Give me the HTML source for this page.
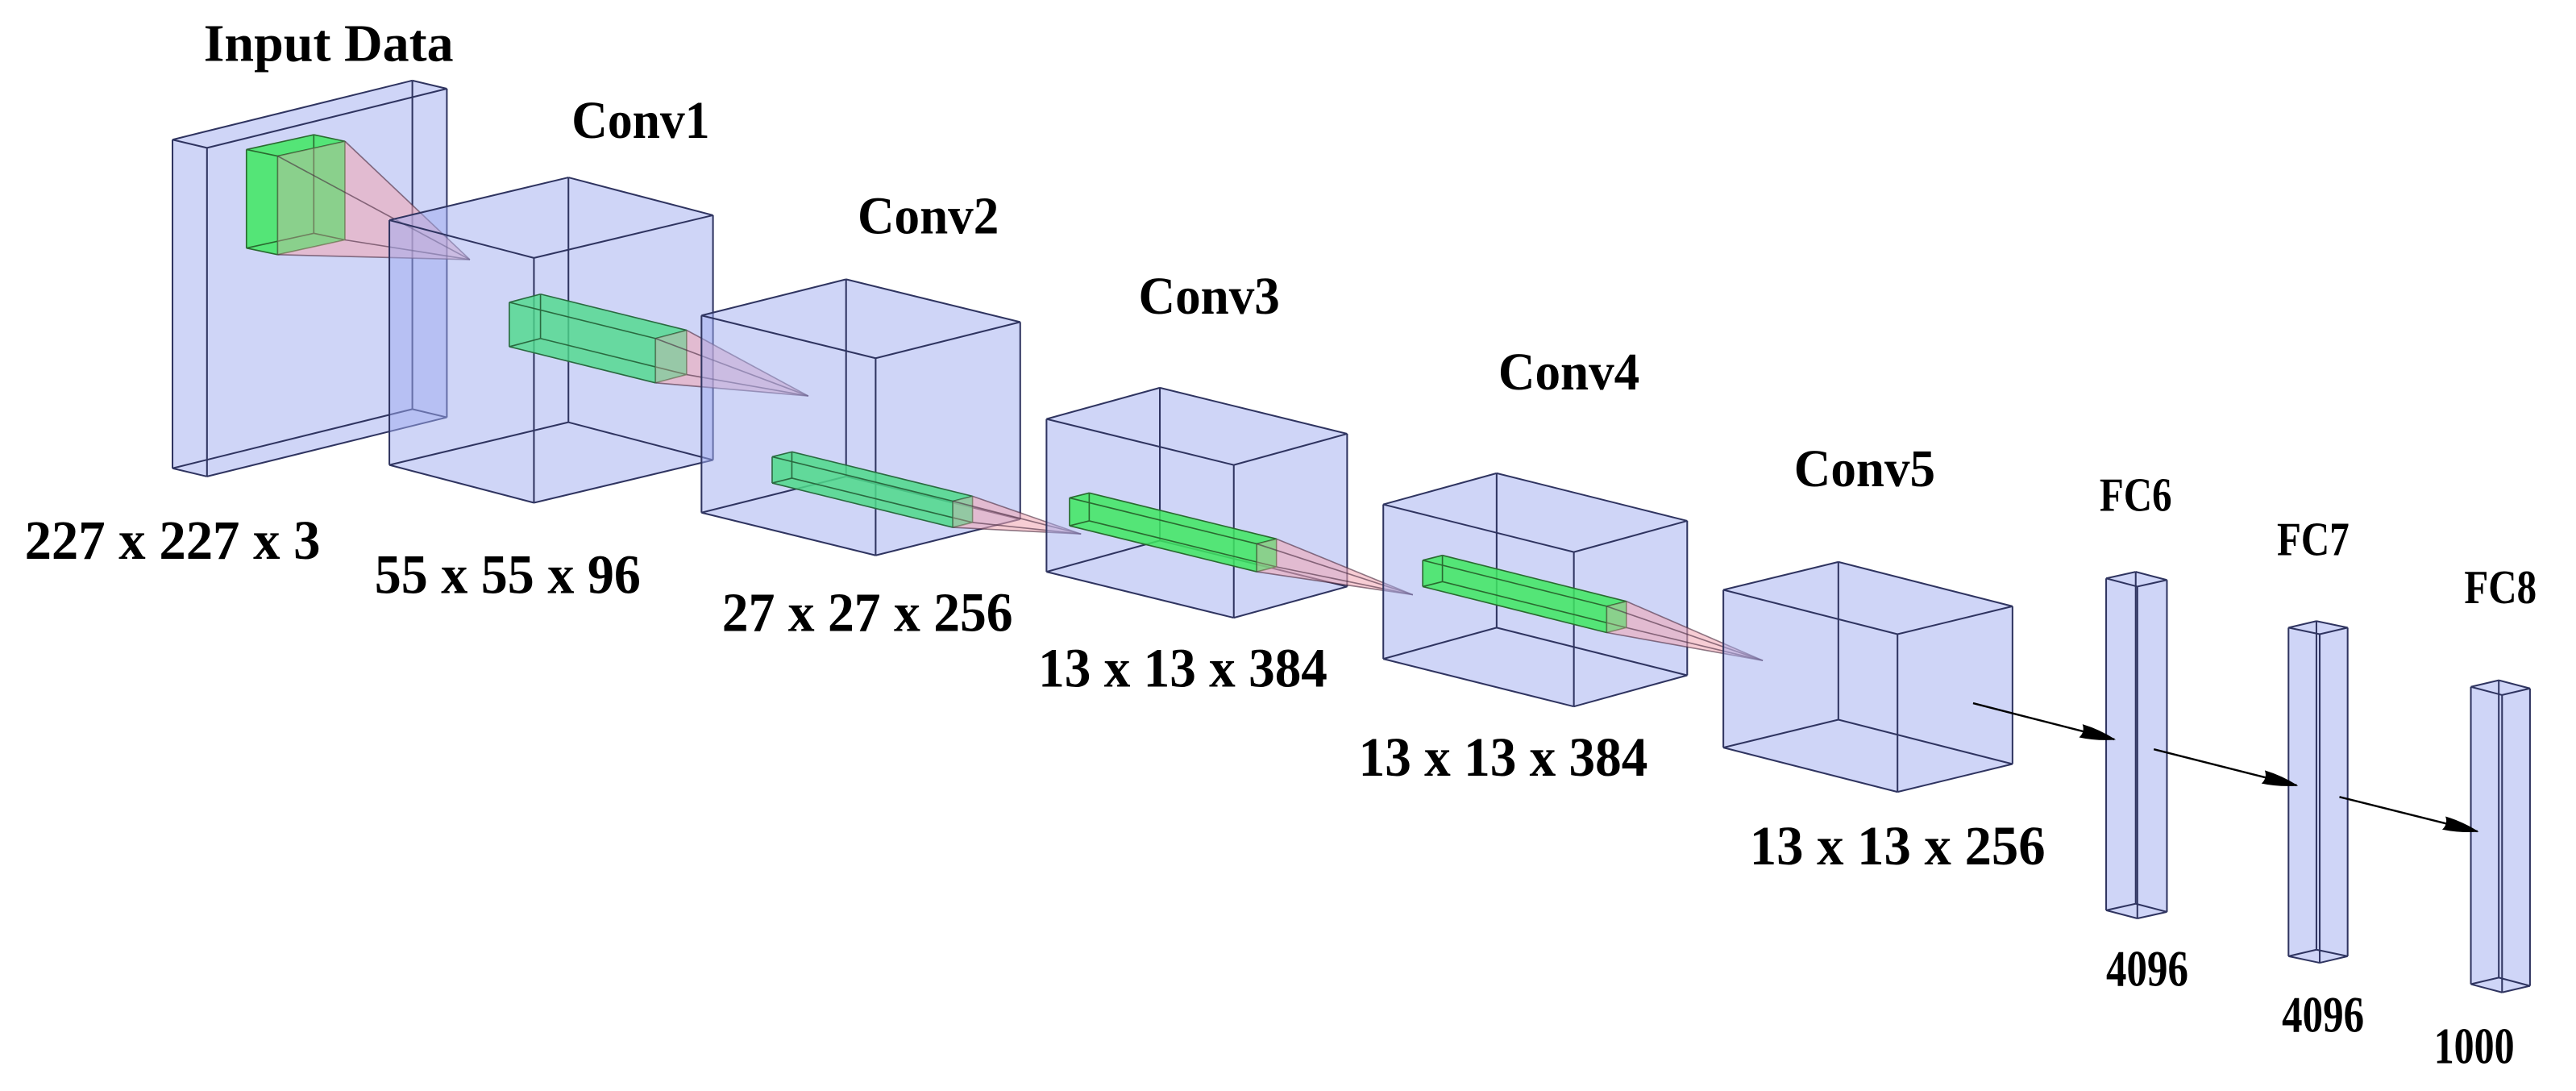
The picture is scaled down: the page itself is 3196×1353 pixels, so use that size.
<!DOCTYPE html>
<html><head><meta charset="utf-8"><style>
html,body{margin:0;padding:0;background:#fff;}
svg{display:block;}
text{font-family:"Liberation Serif",serif;font-weight:bold;fill:#000;}
</style></head><body>
<svg id="s" width="3196" height="1353" viewBox="0 0 1568 664" preserveAspectRatio="none" xmlns="http://www.w3.org/2000/svg">
<defs>
<marker id="ah" viewBox="0 0 24 12" refX="23" refY="6" markerWidth="24" markerHeight="11" markerUnits="userSpaceOnUse" orient="auto">
<path d="M0,1.5 Q12,2 24,6 Q12,10 0,10.5 Q3,6 0,1.5 Z" fill="#000"/>
</marker>
</defs>
<g id="g"></g>
<g font-size="32">
<text x="200" y="37" text-anchor="middle" textLength="152" lengthAdjust="spacingAndGlyphs">Input Data</text>
<text x="390" y="84" text-anchor="middle" textLength="84" lengthAdjust="spacingAndGlyphs">Conv1</text>
<text x="565" y="142" text-anchor="middle" textLength="86" lengthAdjust="spacingAndGlyphs">Conv2</text>
<text x="736" y="191" text-anchor="middle" textLength="86" lengthAdjust="spacingAndGlyphs">Conv3</text>
<text x="955" y="237" text-anchor="middle" textLength="86" lengthAdjust="spacingAndGlyphs">Conv4</text>
<text x="1135" y="296" text-anchor="middle" textLength="86" lengthAdjust="spacingAndGlyphs">Conv5</text>
</g>
<g font-size="29">
<text x="1300" y="311" text-anchor="middle" textLength="44" lengthAdjust="spacingAndGlyphs">FC6</text>
<text x="1408" y="338" text-anchor="middle" textLength="44" lengthAdjust="spacingAndGlyphs">FC7</text>
<text x="1522" y="367" text-anchor="middle" textLength="44" lengthAdjust="spacingAndGlyphs">FC8</text>
</g>
<g font-size="34">
<text x="105" y="340" text-anchor="middle" textLength="180" lengthAdjust="spacingAndGlyphs">227 x 227 x 3</text>
<text x="309" y="361" text-anchor="middle" textLength="162" lengthAdjust="spacingAndGlyphs">55 x 55 x 96</text>
<text x="528" y="384" text-anchor="middle" textLength="177" lengthAdjust="spacingAndGlyphs">27 x 27 x 256</text>
<text x="720" y="418" text-anchor="middle" textLength="176" lengthAdjust="spacingAndGlyphs">13 x 13 x 384</text>
<text x="915" y="472" text-anchor="middle" textLength="176" lengthAdjust="spacingAndGlyphs">13 x 13 x 384</text>
<text x="1155" y="526" text-anchor="middle" textLength="180" lengthAdjust="spacingAndGlyphs">13 x 13 x 256</text>
</g>
<g font-size="31">
<text x="1307" y="600" text-anchor="middle" textLength="50" lengthAdjust="spacingAndGlyphs">4096</text>
<text x="1414" y="628" text-anchor="middle" textLength="50" lengthAdjust="spacingAndGlyphs">4096</text>
<text x="1506" y="647" text-anchor="middle" textLength="49" lengthAdjust="spacingAndGlyphs">1000</text>
</g>
</svg>
<script>
var g=document.getElementById('g'),out="";
function P(p){return p[0].toFixed(1)+","+p[1].toFixed(1);}
function add(a,b){return [a[0]+b[0],a[1]+b[1]];}
function poly(pts,fill,stroke,sw,op){out+='<polygon points="'+pts.map(P).join(" ")+'" fill="'+fill+'" fill-opacity="'+(op==null?1:op)+'" stroke="'+(stroke||"none")+'" stroke-width="'+(sw||1)+'" stroke-linejoin="round"/>';}
function line(a,b,c,w){out+='<line x1="'+a[0]+'" y1="'+a[1]+'" x2="'+b[0]+'" y2="'+b[1]+'" stroke="'+c+'" stroke-width="'+w+'"/>';}
function box(a,u,v,h,fill,op,stroke,sw){
  var H=[0,h];
  var A=a,B=add(a,u),C=add(B,v),D=add(a,v);
  var A2=add(A,H),B2=add(B,H),C2=add(C,H),D2=add(D,H);
  poly([A,B,C,C2,D2,A2],fill,"none",1,op);
  var E=[[A,B],[B,C],[C,D],[D,A],[A2,B2],[B2,C2],[C2,D2],[D2,A2],[A,A2],[B,B2],[C,C2],[D,D2]];
  E.forEach(function(e){line(e[0],e[1],stroke,sw);});
  return {A:A,B:B,C:C,D:D,A2:A2,B2:B2,C2:C2,D2:D2};
}
function pyr(f,apex){
  var q=[f.D,f.C,f.C2,f.D2];
  for(var i=0;i<4;i++){poly([q[i],q[(i+1)%4],apex],"#f0a8b4","none",1,0.35);}
  q.forEach(function(p){line(p,apex,"rgba(70,40,60,0.6)",0.8);});
}
var BF="#9fabf0",BS="#2f3460";
box([105,85],[146,-36],[21,5],200,BF,0.5,BS,1);
var g1=box([150,91],[41,-9],[19,4],60,"#3ee860",0.85,"#2a6a30",0.8);
pyr(g1,[286,158]);
box([237,134],[109,-26],[88,23],149,BF,0.5,BS,1);
var g2=box([310,184],[19,-5],[89,22],27,"#4cd98a",0.8,"#2a6a40",0.8);
pyr(g2,[492,241]);
box([427,192],[88,-22],[106,26],120,BF,0.5,BS,1);
var g3=box([470,278],[12,-3],[110,27],16,"#4ed98a",0.85,"#2a6a40",0.8);
pyr(g3,[658,325]);
box([637,255],[69,-19],[114,28],93,BF,0.5,BS,1);
var g4=box([651,303],[12,-3],[114,28],17,"#3ee860",0.85,"#2a6a30",0.8);
pyr(g4,[860,362]);
box([842,307],[69,-19],[116,29],94,BF,0.5,BS,1);
var g5=box([866,341],[12,-3],[112,28],16,"#3ee860",0.85,"#2a6a30",0.8);
pyr(g5,[1073,402]);
box([1049,359],[70,-17],[106,27],96,BF,0.5,BS,1);
box([1282,352],[18,-4],[19,5],202,BF,0.5,BS,1);
box([1393,382],[17,-4],[19,4],200,BF,0.5,BS,1);
box([1504,418],[17,-4],[19,5],181,BF,0.5,BS,1);
out+='<line x1="1201" y1="428" x2="1287" y2="450" stroke="#000" stroke-width="1.2" marker-end="url(#ah)"/>';
out+='<line x1="1311" y1="456" x2="1398" y2="478" stroke="#000" stroke-width="1.2" marker-end="url(#ah)"/>';
out+='<line x1="1424" y1="485" x2="1508" y2="506" stroke="#000" stroke-width="1.2" marker-end="url(#ah)"/>';
g.innerHTML=out;
</script>
</body></html>
